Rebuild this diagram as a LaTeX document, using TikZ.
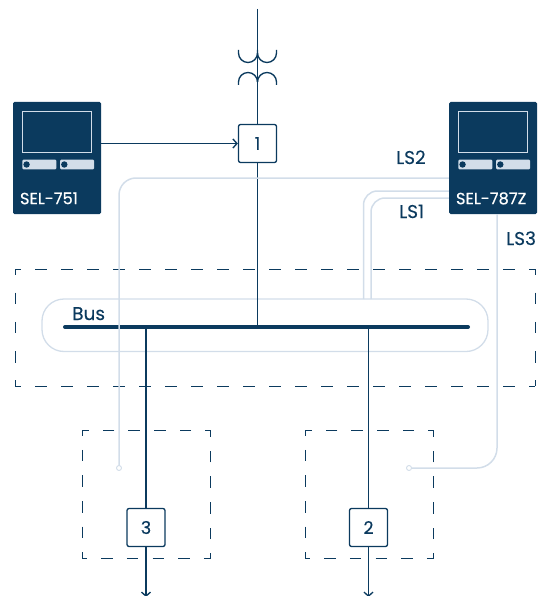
\documentclass[tikz,border=0pt]{standalone}
\usepackage{fontspec}
\setmainfont[FakeBold=0.12]{Poppins}
\newfontfamily\heavyfont[FakeBold=0.4]{Poppins}
\usetikzlibrary{arrows.meta}
\definecolor{navy}{HTML}{0B3A5E}
\definecolor{pale}{HTML}{D2DDE9}
\tikzset{
	wire/.style = {draw = navy, line width = 1.35pt},
	signal/.style = {draw = pale, line width = 1.5pt, rounded corners = 14pt},
	feeder/.style = {wire, -{Straight Barb[length = 4pt, width = 9pt]}},
	dashline/.style = {draw = navy, line width = 1pt, dash pattern = on 11.5pt off #1, dash phase = 5.75pt},
	relay/.style = {fill = navy, rounded corners = 1.5pt, inner sep = 0pt, minimum width = 88pt, minimum height = 112pt},
	relayname/.style = {text = white, inner sep = 0pt, anchor = base west, font = \heavyfont\fontsize{16.2}{16}\selectfont},
	screen/.style = {draw = pale, line width = 1.7pt, inner sep = 0pt, minimum width = 69pt, minimum height = 41pt},
	softkey/.style = {fill = pale, rounded corners = 1pt, inner sep = 0pt, minimum width = 34pt, minimum height = 9.5pt},
	breaker/.style = {draw = navy, fill = white, line width = 1.3pt, rounded corners = 2pt, inner sep = 0pt, minimum size = 38pt, text = navy, font = \heavyfont\fontsize{17.5}{18}\selectfont},
	tag/.style = {text = navy, inner sep = 0pt, font = \fontsize{18.5}{18}\selectfont},
	tip/.style = {circle, draw = pale, fill = white, line width = .9pt, inner sep = 0pt, minimum size = 5pt}
}
\begin{document}
\begin{tikzpicture}[x = 1pt, y = -1pt]
	\useasboundingbox (0,0) rectangle (548,596);

	\node (relayL)[relay] at (57,158) {};
	\node (relayR)[relay] at (493,158) {};
	\node (brk1)[breaker] at (257.5,143.5) {1};
	\node (brk3)[breaker] at (146,527.5) {3};
	\node (brk2)[breaker] at (368.5,527.5) {2};

	\foreach \r/\t in {relayL/SEL-751, relayR/SEL-787Z}{
		\node (\r scr)[screen] at ([yshift = 26pt]\r.center) {};
		\node (\r keyA)[softkey] at ([xshift = -17.75pt, yshift = -6.5pt]\r.center) {};
		\node (\r keyB)[softkey] at ([xshift = 20pt, yshift = -6.5pt]\r.center) {};
		\fill[navy] ([xshift = 4.5pt]\r keyA.west) circle (3.2pt);
		\fill[navy] ([xshift = 4.5pt]\r keyB.west) circle (3.2pt);
		\node (\r txt)[relayname] at ([xshift = 7pt, yshift = 10pt]\r.south west) {\t};
	}

	% dashed zones
	\coordinate (zA) at (15,269);
	\coordinate (zB) at (535,386);
	\draw[dashline = 14.5pt] (zA) -- (zA -| zB);
	\draw[dashline = 14.5pt] (zA |- zB) -- (zB);
	\draw[dashline = 17.75pt] (zA) -- (zA |- zB);
	\draw[dashline = 17.75pt] (zA -| zB) -- (zB);
	\draw[dashline = 14.1pt] (82,430) rectangle (210,558.5);
	\draw[dashline = 14.1pt] (305,430) rectangle (433,558.5);

	% bus
	\coordinate (busL) at (65,327);
	\coordinate (busR) at (468,327);
	\draw[pale, line width = 1.3pt, rounded corners = 22pt] (42,299) rectangle (488,351.5);
	\draw[navy, line width = 4pt, line cap = round] (busL) -- (busR);
	\node (bus)[tag, anchor = base west] at (72,320) {Bus};

	% transformer
	\coordinate (hv) at (257.5,9);
	\draw[wire] (hv) -- (brk1);
	\draw[wire] (brk1) -- (brk1 |- busL);
	\draw[wire] (238.5,50) -- (238.5,53) arc[start angle = 180, end angle = 360, radius = 9.5pt] -- (257.5,50);
	\draw[wire] (257.5,53) arc[start angle = 180, end angle = 360, radius = 9.5pt] -- (276.5,50);
	\draw[wire] (238.5,85) -- (238.5,82) arc[start angle = 180, end angle = 0, radius = 9.5pt];
	\draw[wire] (257.5,82) arc[start angle = 180, end angle = 0, radius = 9.5pt] -- (276.5,85);

	\draw[feeder] (relayL.east |- brk1) -- (brk1);
	\draw[wire] (brk3 |- busL) -- (brk3);
	\draw[wire] (brk2 |- busL) -- (brk2);
	\coordinate (out3) at (146,597);
	\coordinate (out2) at (368.5,597);
	\draw[feeder] (brk3) -- (out3);
	\draw[feeder] (brk2) -- (out2);

	% signal lines
	\node (endL)[tip] at (119,468) {};
	\node (endR)[tip] at (409,468) {};
	\draw[signal, rounded corners = 17pt] (relayR.west |- 0,178) -- (endL |- 0,178) -- (endL);
	\draw[signal] (relayR.west |- 0,191) -- (363.5,191) -- (363.5,299);
	\draw[signal] (relayR.west |- 0,198) -- (371,198) -- (371,299);
	\draw[signal, rounded corners = 20pt] (497,214) -- (497,468) -- (endR);

	\node (ls2)[tag, anchor = base west] at (396,164) {LS2};
	\node (ls1)[tag, anchor = base west] at (399,218) {LS1};
	\node (ls3)[tag, anchor = base west] at (506,245) {LS3};
\end{tikzpicture}
\end{document}
